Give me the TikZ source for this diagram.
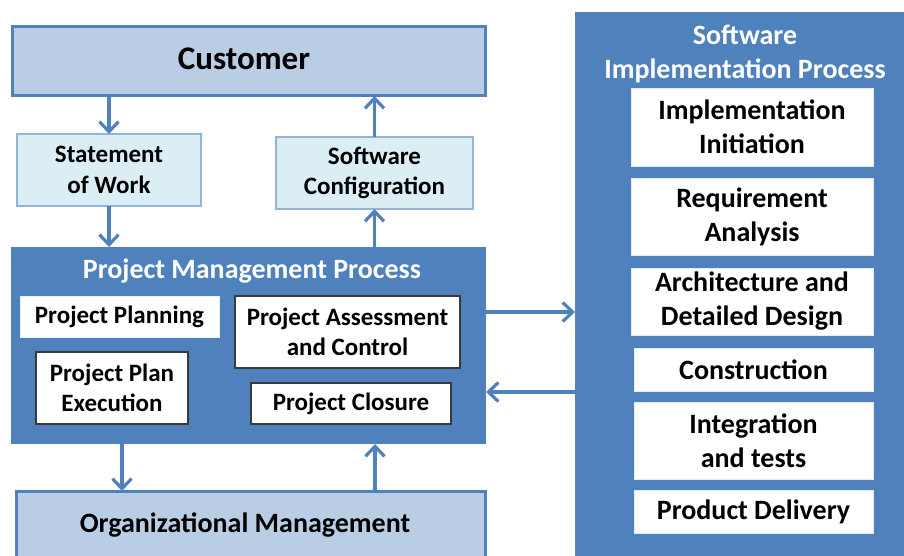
\documentclass[tikz,border=0pt]{standalone}
\usepackage{fontspec}
\setmainfont{Carlito}
\usetikzlibrary{arrows.meta,calc}
\definecolor{dblue}{HTML}{4F81BD}
\definecolor{lblue}{HTML}{B9CDE5}
\definecolor{cyanfill}{HTML}{DBEEF4}
\definecolor{cyanline}{HTML}{93B3D9}
\definecolor{boxline}{HTML}{3A3A3A}
\newcommand{\fs}[2]{\fontsize{#1}{#2}\selectfont}
\begin{document}
\begin{tikzpicture}[x=1pt,y=-1pt,
  base/.style={inner sep=0pt,outer sep=0pt,align=center,font=\bfseries},
  bigbox/.style={base,fill=lblue,draw=dblue,line width=3pt},
  docbox/.style={base,fill=cyanfill,draw=cyanline,line width=1.2pt,font=\bfseries\fs{25}{30.5}},
  procbox/.style={base,fill=dblue},
  inbox/.style={base,fill=white,draw=boxline,line width=1.2pt,font=\bfseries\fs{25}{30.5}},
  inplain/.style={base,fill=white,draw=white!90!dblue,line width=0.8pt,font=\bfseries\fs{25}{30.5}},
  sibox/.style={base,fill=white,draw=white!85!dblue,line width=0.8pt,font=\bfseries\fs{28}{34}},
  ttl/.style={base,text=white,font=\bfseries\fs{28}{34}},
  arr/.style={draw=dblue,line width=3.2pt,-{Straight Barb[length=10pt,width=19pt]}}
]
\clip (0,0) rectangle (904,556);
\fill[white] (0,0) rectangle (904,556);
% Customer
\node[bigbox,minimum width=473pt,minimum height=69pt] (cust) at (248.5,61.5) {};
\node[base,font=\bfseries\fs{33}{40}] (custt) at (244,58.5) {Customer};
% documents
\node[docbox,minimum width=184pt,minimum height=72pt] (sow) at (109,170) {Statement\\of Work};
\node[docbox,minimum width=197pt,minimum height=72pt] (sc) at (374.5,173) {Software\\Configuration};
% PMP
\node[procbox,minimum width=475pt,minimum height=197pt] (pmp) at (248.5,345.5) {};
\node[ttl] (pmpt) at (252,271) {Project Management Process};
\node[inplain,minimum width=199pt,minimum height=41pt] (pp) at (119.5,317) {Project Planning};
\node[inbox,minimum width=225pt,minimum height=72pt] (pac) at (347.5,332) {Project Assessment\\and Control};
\node[inbox,minimum width=152pt,minimum height=72pt] (ppe) at (112,388) {Project Plan\\Execution};
\node[inbox,minimum width=200pt,minimum height=41pt] (pcl) at (351,403.5) {Project Closure};
% OM
\node[bigbox,minimum width=469pt,minimum height=90pt] (om) at (250.5,536) {};
\node[base,font=\bfseries\fs{28}{34}] (omt) at (245,525) {Organizational Management};
% SIP
\node[procbox,minimum width=340pt,minimum height=560pt] (sip) at (745,292) {};
\node[ttl] (sipt) at (745,54) {Software\\Implementation Process};
\node[sibox,minimum width=242pt,minimum height=78pt] (s1) at (752,127) {Implementation\\Initiation};
\node[sibox,minimum width=242pt,minimum height=77pt] (s2) at (752,216.5) {Requirement\\Analysis};
\node[sibox,minimum width=242pt,minimum height=67pt] (s3) at (752,301.5) {Architecture and\\Detailed Design};
\node[sibox,minimum width=239pt,minimum height=43pt] (s4) at (753.5,369.5) {Construction};
\node[sibox,minimum width=239pt,minimum height=77pt] (s5) at (753.5,440.5) {Integration\\and tests};
\node[sibox,minimum width=239pt,minimum height=43pt] (s6) at (753.5,511.5) {Product Delivery};
% arrows
\coordinate (ax1) at (122,0);
\coordinate (ax2) at (375,0);
\coordinate (ay1) at (0,312);
\coordinate (ay2) at (0,392);
\draw[arr] (sow.north |- cust.south) -- (sow.north);
\draw[arr] (sow.south) -- (sow.south |- pmp.north);
\draw[arr] (sc.north) -- (sc.north |- cust.south);
\draw[arr] (sc.south |- pmp.north) -- (sc.south);
\draw[arr] (pmp.south -| ax1) -- (om.north -| ax1);
\draw[arr] (om.north -| ax2) -- (pmp.south -| ax2);
\draw[arr] (pmp.east |- ay1) -- (sip.west |- ay1);
\draw[arr] (sip.west |- ay2) -- (pmp.east |- ay2);
\end{tikzpicture}
\end{document}
